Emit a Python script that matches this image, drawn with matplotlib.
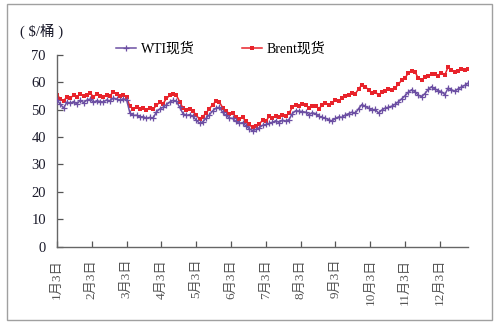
import numpy as np
import matplotlib
matplotlib.use("Agg")
import matplotlib.pyplot as plt
from matplotlib.patches import Rectangle

plt.rcParams['font.family'] = ['Liberation Serif', 'Noto Sans CJK SC', 'DejaVu Sans']

# trading-day index of each observation (every second trading day)
days = np.arange(0, 250, 2)

brent = [55.5, 54.0, 53.2, 54.8, 54.2, 55.3, 54.6, 55.8, 54.9, 55.5,
         56.0, 54.8, 55.6, 55.0, 54.5, 55.4, 55.1, 56.6, 55.6, 54.9,
         55.3, 54.6, 51.2, 50.3, 50.9, 50.4, 50.8, 49.9, 50.5, 50.2,
         51.6, 52.7, 52.2, 54.1, 55.2, 55.6, 55.3, 53.0, 50.6, 49.8,
         50.1, 49.6, 48.0, 46.6, 47.5, 48.8, 50.4, 51.9, 53.1, 52.8,
         50.7, 49.6, 48.5, 48.9, 47.3, 46.6, 47.2, 45.8, 44.6, 43.5,
         44.0, 44.8, 46.1, 45.7, 47.6, 46.9, 47.8, 47.3, 48.1, 47.6,
         48.7, 50.9, 51.9, 51.2, 52.0, 51.6, 50.8, 51.3, 51.5, 50.4,
         51.6, 52.3, 51.8, 52.6, 53.4, 53.1, 54.3, 54.9, 55.5, 56.2,
         55.8, 57.6, 59.1, 58.4, 57.3, 56.0, 56.6, 55.3, 56.4, 56.9,
         57.4, 57.2, 58.0, 59.3, 60.8, 61.6, 63.4, 64.3, 63.9, 61.5,
         60.8, 61.9, 62.4, 62.9, 63.1, 62.5, 63.6, 62.7, 65.6, 64.4,
         63.8, 64.3, 64.9, 64.5, 64.7]

wti = [53.6, 52.0, 50.6, 52.8, 52.3, 53.0, 52.1, 53.4, 52.6, 53.5,
       53.9, 52.7, 53.3, 53.0, 52.8, 53.6, 53.2, 54.3, 53.9, 53.5,
       54.0, 53.6, 48.8, 47.9, 48.0, 47.3, 47.5, 46.8, 47.2, 46.9,
       49.2, 50.3, 50.9, 51.8, 52.8, 53.4, 53.1, 50.9, 48.6, 47.9,
       48.2, 47.6, 46.2, 45.1, 45.6, 46.9, 48.2, 49.6, 50.6, 50.9,
       49.0, 47.9, 47.0, 46.8, 45.7, 45.0, 45.3, 44.0, 43.1, 42.3,
       42.8, 43.4, 44.3, 44.6, 45.0, 45.4, 46.0, 45.3, 46.2, 45.8,
       46.4, 48.6, 49.6, 49.5, 49.3, 49.1, 48.2, 48.9, 48.6, 47.6,
       47.2, 46.9, 46.3, 45.9, 46.8, 47.4, 47.2, 48.1, 48.6, 49.1,
       48.7, 50.4, 51.9, 51.2, 50.6, 49.8, 50.1, 48.8, 49.9, 50.6,
       50.9, 51.3, 52.0, 52.9, 54.0, 55.1, 56.4, 57.3, 56.6, 55.3,
       54.8, 55.9, 57.4, 58.4, 57.6, 57.0, 56.6, 55.5, 57.9, 57.3,
       56.8, 57.6, 58.3, 58.9, 59.7]

tick_days = [0, 21, 42, 63, 84, 105, 126, 147, 168, 189, 210, 231]
tick_labels = ["1月3日", "2月3日", "3月3日", "4月3日", "5月3日", "6月3日",
               "7月3日", "8月3日", "9月3日", "10月3日", "11月3日", "12月3日"]
y_ticks = [0, 10, 20, 30, 40, 50, 60, 70]

W, H = 499, 326
fig = plt.figure(figsize=(W / 100, H / 100), dpi=100)
ax = fig.add_axes([57 / W, 1 - 246.5 / H, (468 - 57) / W, (246.5 - 55) / H])

wti_color = '#6C4FA3'
brent_color = '#E8232B'
ax.plot(days, wti, color=wti_color, lw=1.1, marker='+', ms=3.8, mew=0.9,
        label='WTI现货', zorder=3)
ax.plot(days, brent, color=brent_color, lw=1.1, marker='s', ms=2.7, mew=0,
        label='Brent现货', zorder=2)

ax.set_xlim(0, 248)
ax.set_ylim(0, 70)
ax.set_yticks(y_ticks)
ax.set_xticks(tick_days)
ax.set_xticklabels(tick_labels, rotation=90, fontsize=9.5, color='#1a1a2a')
ax.tick_params(axis='y', direction='in', length=4, width=0.9, pad=8,
               labelsize=10.5, colors='#555555', labelcolor='#1a1a2a')
ax.tick_params(axis='x', direction='in', length=4, width=0.9, pad=9,
               colors='#555555')
for s in ['top', 'right']:
    ax.spines[s].set_visible(False)
for s in ['left', 'bottom']:
    ax.spines[s].set_color('#666666')
    ax.spines[s].set_linewidth(1.0)

fig.legend(loc='center left', bbox_to_anchor=(116 / W, 1 - 49 / H),
           ncol=2, frameon=False, fontsize=10, handlelength=1.45,
           handletextpad=0.35, columnspacing=3.4, borderpad=0,
           borderaxespad=0)

fig.text(42 / W, 1 - 31 / H, "( $/桶 )", ha='center', va='center',
         fontsize=10.5, color='#1a1a2a')

fig.patches.append(Rectangle((7 / W, 1 - 320 / H), (491.5 - 7) / W,
                             (320 - 3.5) / H, transform=fig.transFigure,
                             fill=False, ec='#a0a0a0', lw=1.0))

fig.savefig('out.png', dpi=100)
